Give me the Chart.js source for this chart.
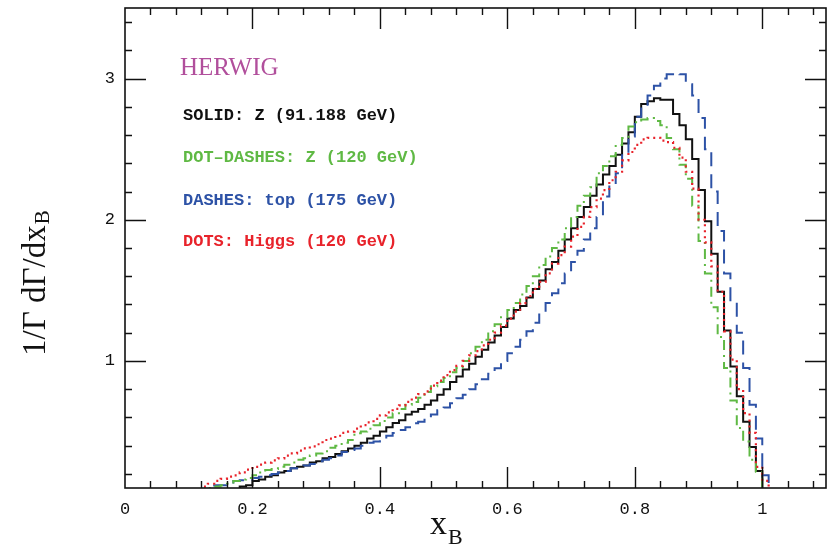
<!DOCTYPE html>
<html>
<head>
<meta charset="utf-8">
<script src="https://cdn.jsdelivr.net/npm/chart.js@4.4.1/dist/chart.umd.min.js"></script>
<style>
html, body { margin: 0; padding: 0; background: #fff; }
#wrap { width: 827px; height: 548px; }
</style>
</head>
<body>
<div id="wrap"><canvas id="grafico" width="827" height="548"></canvas></div>
<script>
// bordas esquerdas dos bins (largura 0.01), de 0.12 a 1.00
const binWidth = 0.01;
const binLow = Array.from({length: 89}, (_, i) => Math.round((0.12 + i * binWidth) * 100) / 100);

// Z (91.188 GeV) - linha cheia
const zSolid = [
  null, null, null, null, null, null,
  0.11, 0.12, 0.15, 0.16, 0.18, 0.19, 0.21, 0.22, 0.24, 0.25,
  0.26, 0.28, 0.29, 0.31, 0.32, 0.34, 0.36, 0.38, 0.40, 0.42,
  0.45, 0.47, 0.50, 0.53, 0.56, 0.58, 0.62, 0.64, 0.66, 0.69,
  0.72, 0.76, 0.80, 0.85, 0.89, 0.94, 0.98, 1.03, 1.08, 1.13,
  1.18, 1.24, 1.30, 1.36, 1.39, 1.45, 1.51, 1.57, 1.65, 1.70,
  1.78, 1.86, 1.94, 2.02, 2.09, 2.17, 2.25, 2.32, 2.38, 2.46,
  2.54, 2.62, 2.73, 2.82, 2.84, 2.86, 2.85, 2.85, 2.75, 2.67,
  2.57, 2.43, 2.21, 1.99, 1.76, 1.49, 1.215, 0.96, 0.75, 0.57,
  0.39, 0.22, null
];

// Z (120 GeV) - ponto-traco
const z120 = [
  null, 0.10, 0.11, 0.12, 0.13, 0.15, 0.16, 0.17, 0.19, 0.21,
  0.227, 0.235, 0.25, 0.265, 0.28, 0.30, 0.31, 0.33, 0.345, 0.36,
  0.385, 0.40, 0.42, 0.44, 0.487, 0.50, 0.52, 0.545, 0.575, 0.60,
  0.63, 0.66, 0.69, 0.71, 0.74, 0.78, 0.82, 0.85, 0.88, 0.92,
  0.95, 1.00, 1.055, 1.10, 1.15, 1.21, 1.26, 1.31, 1.36, 1.41,
  1.47, 1.53, 1.60, 1.68, 1.74, 1.80, 1.86, 1.94, 2.02, 2.10,
  2.17, 2.23, 2.33, 2.38, 2.45, 2.53, 2.58, 2.66, 2.69, 2.71,
  2.72, 2.70, 2.67, 2.58, 2.50, 2.39, 2.29, 2.10, 1.85, 1.62,
  1.38, 1.17, 0.95, 0.72, 0.525, 0.43, 0.30, 0.215, null
];

// top (175 GeV) - tracejado
const top175 = [
  null, 0.11, 0.12, 0.12, 0.13, 0.15, 0.155, 0.16, 0.17, 0.18,
  0.19, 0.20, 0.21, 0.22, 0.24, 0.25, 0.26, 0.27, 0.29, 0.30,
  0.31, 0.33, 0.355, 0.37, 0.38, 0.40, 0.42, 0.43, 0.45, 0.47,
  0.49, 0.51, 0.53, 0.558, 0.57, 0.60, 0.62, 0.65, 0.67, 0.70,
  0.735, 0.76, 0.80, 0.835, 0.87, 0.91, 0.948, 1.00, 1.055, 1.10,
  1.15, 1.21, 1.27, 1.34, 1.41, 1.48, 1.55, 1.62, 1.70, 1.78,
  1.86, 1.94, 2.02, 2.165, 2.25, 2.33, 2.47, 2.59, 2.73, 2.80,
  2.88, 2.95, 3.00, 3.03, 3.04, 3.03, 2.96, 2.88, 2.72, 2.50,
  2.20, 1.92, 1.62, 1.42, 1.20, 0.95, 0.69, 0.45, 0.19
];

// Higgs (120 GeV) - pontilhado
const higgs120 = [
  0.11, 0.13, 0.15, 0.165, 0.18, 0.19, 0.21, 0.23, 0.25, 0.265,
  0.28, 0.295, 0.31, 0.33, 0.345, 0.365, 0.38, 0.395, 0.41, 0.44,
  0.45, 0.47, 0.49, 0.50, 0.52, 0.545, 0.565, 0.59, 0.615, 0.635,
  0.66, 0.685, 0.71, 0.74, 0.765, 0.785, 0.825, 0.86, 0.90, 0.935,
  0.965, 1.00, 1.04, 1.07, 1.11, 1.15, 1.20, 1.25, 1.30, 1.35,
  1.41, 1.46, 1.51, 1.56, 1.62, 1.69, 1.75, 1.81, 1.88, 1.95,
  2.02, 2.09, 2.15, 2.21, 2.28, 2.34, 2.42, 2.48, 2.53, 2.57,
  2.58, 2.58, 2.56, 2.55, 2.51, 2.44, 2.34, 2.22, 2.00, 1.84,
  1.67, 1.49, 1.21, 1.01, 0.80, 0.63, 0.49, 0.25, 0.15
];

const xMajor = [0, 0.2, 0.4, 0.6, 0.8, 1];
const yMajor = [1, 2, 3];

const rotulos = [
  {texto: 'HERWIG', cor: '#b14f9c'},
  {texto: 'SOLID: Z (91.188 GeV)', cor: '#111111'},
  {texto: 'DOT\u2013DASHES: Z (120 GeV)', cor: '#5fb944'},
  {texto: 'DASHES: top (175 GeV)', cor: '#2d52a6'},
  {texto: 'DOTS: Higgs (120 GeV)', cor: '#e8232b'}
];

function histograma(valores) {
    let i0 = valores.findIndex(v => v !== null);
    let i1 = valores.length - 1;
    while (valores[i1] === null) i1--;
    const pts = [{x: binLow[i0], y: 0}];
    for (let i = i0; i <= i1; i++) {
        pts.push({x: binLow[i], y: valores[i]});
    }
    pts.push({x: Math.round((binLow[i1] + binWidth) * 100) / 100, y: 0});
    return pts;
}

const molduraPlugin = {
    id: 'moldura',
    afterDraw(chart) {
        const ctx = chart.ctx;
        const a = chart.chartArea;
        const sx = chart.scales.x;
        const sy = chart.scales.y;
        ctx.save();
        ctx.strokeStyle = '#111';
        ctx.lineWidth = 1.6;
        ctx.strokeRect(a.left, a.top, a.right - a.left, a.bottom - a.top);

        // marcas maiores e menores, para dentro, nos quatro lados
        ctx.lineWidth = 1.4;
        ctx.beginPath();
        for (let k = 1; k * 0.04 < 1.1; k++) {
            const px = Math.round(sx.getPixelForValue(k * 0.04)) + 0.5;
            const len = (k % 5 === 0) ? 21 : 7;
            ctx.moveTo(px, a.bottom); ctx.lineTo(px, a.bottom - len);
            ctx.moveTo(px, a.top); ctx.lineTo(px, a.top + len);
        }
        for (let k = 1; k * 0.2 < 3.5; k++) {
            const py = Math.round(sy.getPixelForValue(k * 0.2)) + 0.5;
            const len = (k % 5 === 0) ? 21 : 7;
            ctx.moveTo(a.left, py); ctx.lineTo(a.left + len, py);
            ctx.moveTo(a.right, py); ctx.lineTo(a.right - len, py);
        }
        ctx.stroke();

        // titulos dos eixos com subscrito
        ctx.fillStyle = '#111';
        ctx.textBaseline = 'alphabetic';
        ctx.textAlign = 'left';
        ctx.font = '34px "Liberation Serif"';
        const wx = ctx.measureText('x').width;
        ctx.fillText('x', 430, 534);
        ctx.font = '22px "Liberation Serif"';
        ctx.fillText('B', 430 + wx + 1, 544);

        ctx.save();
        ctx.translate(45, 356);
        ctx.rotate(-Math.PI / 2);
        ctx.font = '33px "Liberation Serif"';
        const base = '1/\u0393 d\u0393/dx';
        const wy = ctx.measureText(base).width;
        ctx.fillText(base, 0, 0);
        ctx.font = '21px "Liberation Serif"';
        ctx.fillText('B', wy + 1, 4);
        ctx.restore();

        // anotacoes da legenda
        ctx.textBaseline = 'middle';
        ctx.fillStyle = rotulos[0].cor;
        ctx.font = '25px "Liberation Serif"';
        ctx.fillText(rotulos[0].texto, 180, 68);
        ctx.font = 'bold 17px "Liberation Mono"';
        const linhasY = [116, 158, 201, 242];
        for (let i = 1; i < rotulos.length; i++) {
            ctx.fillStyle = rotulos[i].cor;
            ctx.fillText(rotulos[i].texto, 183, linhasY[i - 1]);
        }
        ctx.restore();
    }
};

function semPadding(s) {
    s.paddingTop = 0;
    s.paddingBottom = 0;
    s.paddingLeft = 0;
    s.paddingRight = 0;
}

function criarGrafico() {
    const contexto = document.getElementById('grafico').getContext('2d');
    new Chart(contexto, {
        type: 'line',
        data: {
            datasets: [
                {data: histograma(higgs120), borderColor: '#e8232b', borderWidth: 2.2, borderDash: [2, 4], stepped: 'before'},
                {data: histograma(z120), borderColor: '#5fb944', borderWidth: 2, borderDash: [10, 5, 2, 5], stepped: 'before'},
                {data: histograma(top175), borderColor: '#2d52a6', borderWidth: 2, borderDash: [14, 8], stepped: 'before'},
                {data: histograma(zSolid), borderColor: '#111111', borderWidth: 2, stepped: 'before'}
            ]
        },
        options: {
            responsive: false,
            animation: false,
            events: [],
            layout: {padding: {top: 8, right: 1, left: 0, bottom: 0}},
            elements: {point: {radius: 0}, line: {tension: 0, fill: false}},
            plugins: {legend: {display: false}, tooltip: {enabled: false}, title: {display: false}},
            scales: {
                x: {
                    type: 'linear', min: 0, max: 1.1,
                    grid: {display: false, drawTicks: false},
                    border: {display: false},
                    afterBuildTicks: (s) => { s.ticks = xMajor.map(v => ({value: v})); },
                    afterFit: (s) => { s.height = 60; semPadding(s); },
                    ticks: {
                        padding: 11, color: '#111', maxRotation: 0, autoSkip: false,
                        font: {family: 'Liberation Mono', size: 17},
                        callback: (v) => String(Math.round(v * 10) / 10)
                    }
                },
                y: {
                    type: 'linear', min: 0.1, max: 3.5,
                    grid: {display: false, drawTicks: false},
                    border: {display: false},
                    afterBuildTicks: (s) => { s.ticks = yMajor.map(v => ({value: v})); },
                    afterFit: (s) => { s.width = 125; semPadding(s); },
                    ticks: {
                        padding: 10, color: '#111',
                        font: {family: 'Liberation Mono', size: 17},
                        callback: (v) => String(v)
                    }
                }
            }
        },
        plugins: [molduraPlugin]
    });
}

criarGrafico();
</script>
</body>
</html>
